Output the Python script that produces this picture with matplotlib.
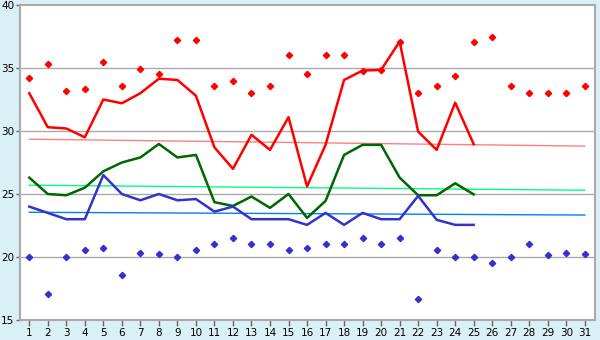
import matplotlib
matplotlib.use("Agg")
import matplotlib.pyplot as plt

days = list(range(1, 32))
line_days = list(range(1, 26))

red_line = [33.0, 30.3, 30.2, 29.5, 32.5, 32.2, 33.0, 34.15, 34.05, 32.8,
            28.7, 27.0, 29.7, 28.5, 31.1, 25.6, 28.9, 34.05, 34.8, 34.85,
            37.1, 29.95, 28.5, 32.25, 28.95]
green_line = [26.3, 25.0, 24.9, 25.5, 26.8, 27.5, 27.9, 28.97, 27.9, 28.1,
              24.35, 24.05, 24.8, 23.9, 25.0, 23.1, 24.45, 28.1, 28.9, 28.9,
              26.3, 24.9, 24.9, 25.85, 24.97]
blue_line = [24.0, 23.5, 23.0, 23.0, 26.5, 25.0, 24.5, 25.0, 24.5, 24.6,
             23.6, 24.0, 23.0, 23.0, 23.0, 22.55, 23.5, 22.55, 23.5, 23.0,
             23.0, 24.85, 22.95, 22.55, 22.55]

red_points = [34.2, 35.3, 33.2, 33.3, 35.5, 33.55, 34.9, 34.5, 37.2, 37.2,
              33.55, 34.0, 33.0, 33.55, 36.0, 34.5, 36.0, 36.0, 34.8, 34.85,
              37.05, 33.0, 33.55, 34.35, 37.05, 37.5, 33.55, 33.0, 33.0, 33.0,
              33.55]
blue_points = [20.0, 17.05, 20.0, 20.55, 20.7, 18.55, 20.3, 20.2, 20.0, 20.55,
               21.0, 21.5, 21.0, 21.0, 20.55, 20.7, 21.0, 21.0, 21.5, 21.0,
               21.5, 16.7, 20.55, 20.0, 20.0, 19.5, 20.0, 21.05, 20.15, 20.3,
               20.2]

# trend lines (start / end values)
trend_x = [1, 31]
red_trend = [29.35, 28.8]
green_trend = [25.7, 25.3]
blue_trend = [23.55, 23.33]

bg = '#daf0f7'
fig = plt.figure(figsize=(6, 3.4), dpi=100, facecolor=bg)
ax = fig.add_axes([20 / 600, 20 / 340, 575 / 600, 315 / 340])
ax.set_facecolor('white')

for y in [20, 25, 30, 35]:
    ax.axhline(y, color='#aaaaaa', lw=1, zorder=1)

ax.plot(trend_x, red_trend, color='#ff8080', lw=1, zorder=2)
ax.plot(trend_x, green_trend, color='#00ff80', lw=1, zorder=2)
ax.plot(trend_x, blue_trend, color='#0080ff', lw=1, zorder=2)

ax.plot(line_days, red_line, color='#ff0000', lw=1.8, zorder=3)
ax.plot(line_days, green_line, color='#006600', lw=1.8, zorder=3)
ax.plot(line_days, blue_line, color='#3333cc', lw=1.8, zorder=3)

ax.plot(days, red_points, ls='none', marker='D', ms=3.2, color='#ff0000', zorder=4)
ax.plot(days, blue_points, ls='none', marker='D', ms=3.2, color='#3333cc', zorder=4)

ax.set_xlim(0.5, 31.55)
ax.set_ylim(15, 40)
ax.set_xticks(days)
ax.set_yticks([15, 20, 25, 30, 35, 40])
ax.tick_params(axis='both', labelsize=7.5, color='#666666', width=1)
ax.tick_params(axis='x', length=4, pad=2)
ax.tick_params(axis='y', length=3, pad=1)
for s in ax.spines.values():
    s.set_color('#aaaaaa')
    s.set_linewidth(1.5)

fig.savefig('out.png', dpi=100, facecolor=bg)
